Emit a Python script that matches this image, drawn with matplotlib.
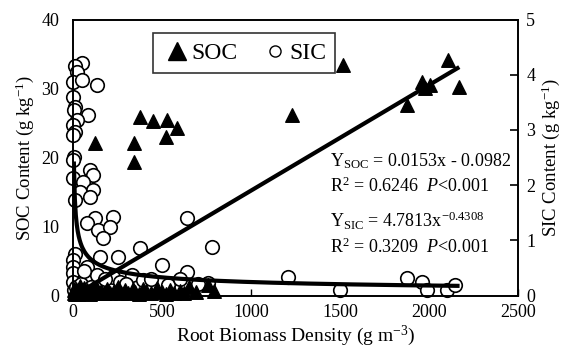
import numpy as np
import matplotlib
matplotlib.use("Agg")
import matplotlib.pyplot as plt
from matplotlib.lines import Line2D

plt.rcParams['font.family'] = ['Liberation Serif', 'DejaVu Serif']
plt.rcParams['mathtext.fontset'] = 'custom'
plt.rcParams['mathtext.rm'] = 'Liberation Serif'
plt.rcParams['mathtext.it'] = 'Liberation Serif:italic'

# SOC (g/kg) vs root biomass density (g/m3)
soc_x = [124, 376, 449, 528, 584, 522, 343, 343, 1517, 1230, 2107, 2169, 1961, 1978, 2006, 1876,
         3, 8, 12, 18, 25, 30, 38, 45, 55, 62, 70, 80, 95, 105, 118, 130, 145, 160, 175, 190,
         210, 230, 255, 270, 290, 310, 335, 350, 370, 395, 410, 440, 470, 500, 520, 545, 570,
         600, 625, 650, 690, 760, 790]
soc_y = [22.1, 25.9, 25.3, 25.4, 24.3, 23.0, 22.1, 19.3, 33.4, 26.2, 34.1, 30.2, 30.9, 30.1, 30.5, 27.6,
         0.3, 0.8, 0.2, 1.0, 0.5, 0.2, 1.4, 0.6, 0.3, 1.1, 0.4, 0.8, 0.2, 0.9, 0.5, 1.2, 0.3, 0.7, 0.4, 1.0,
         0.3, 0.6, 1.3, 0.4, 0.8, 0.3, 1.0, 0.5, 0.2, 0.9, 0.6, 0.3, 1.1, 0.5, 0.2, 0.8, 0.4,
         0.7, 0.3, 1.2, 0.5, 1.5, 0.6]

# SIC (g/kg) vs root biomass density
sic_x = [49, 11, 21, 2, 49, 133, 2, 11, 3, 86, 21, 2, 11, 2, 3, 2, 96, 114, 2, 58, 114, 39, 96, 11,
         227, 124, 77, 142, 208, 170, 639, 779, 376, 152, 255, 11, 2, 2, 77, 2, 67, 133, 227, 330,
         498, 639, 2, 264, 395, 535, 760, 1208, 1500, 1876, 1961, 1989, 2101, 2146,
         5, 15, 30, 45, 60, 100, 180, 300, 440, 600, 700]
sic_y = [4.21, 4.15, 4.05, 3.87, 3.90, 3.81, 3.60, 3.42, 3.36, 3.27, 3.18, 3.09, 2.97, 2.91, 2.51, 2.45,
         2.27, 2.18, 2.12, 2.06, 1.91, 1.88, 1.79, 1.73, 1.43, 1.40, 1.31, 1.19, 1.25, 1.04, 1.40, 0.88,
         0.86, 0.70, 0.70, 0.76, 0.64, 0.52, 0.52, 0.40, 0.34, 0.37, 0.34, 0.37, 0.55, 0.43, 0.25, 0.25,
         0.28, 0.19, 0.22, 0.34, 0.10, 0.32, 0.25, 0.10, 0.10, 0.19,
         0.10, 0.15, 0.10, 0.20, 0.45, 0.15, 0.30, 0.20, 0.30, 0.30, 0.20]

# fitted equations printed on the chart
soc_slope, soc_icpt = 0.0153, -0.0982
sic_a, sic_b = 4.7813, -0.4308

fig = plt.figure(figsize=(5.69, 3.51), dpi=100)
ax = fig.add_axes([0.1283, 0.1581, 0.7821, 0.7863])  # SIC axis (right)
ax2 = ax.twinx()  # SOC axis (left), drawn on top

ax.yaxis.tick_right()
ax.yaxis.set_label_position('right')
ax2.yaxis.tick_left()
ax2.yaxis.set_label_position('left')

# SIC circles and power fit
ax.scatter(sic_x, sic_y, s=95, facecolor='white', edgecolor='black', linewidth=1.2,
           clip_on=False, zorder=2)
xs = np.linspace(5, 2160, 400)
ax.plot(xs, sic_a * xs ** sic_b, color='black', lw=3, zorder=3)

# SOC triangles and linear fit
ax2.scatter(soc_x, soc_y, s=95, marker='^', color='black', clip_on=False, zorder=2)
xl = np.array([0, 2160])
ax2.plot(xl, soc_slope * xl + soc_icpt, color='black', lw=3, zorder=3)

ax.set_xlim(0, 2500)
ax.set_ylim(0, 5)
ax2.set_ylim(0, 40)
ax.set_xticks([0, 500, 1000, 1500, 2000, 2500])
ax.set_yticks([0, 1, 2, 3, 4, 5])
ax2.set_yticks([0, 10, 20, 30, 40])

ax.tick_params(axis='x', direction='in', length=5, width=1, labelsize=13, pad=6, top=False)
ax.tick_params(axis='y', direction='in', length=6, width=1.2, labelsize=13, pad=6,
               left=False, right=True)
ax2.tick_params(axis='y', length=0, labelsize=13, pad=10)

for a in (ax, ax2):
    for sp in a.spines.values():
        sp.set_linewidth(1.2)

ax.set_xlabel('Root Biomass Density (g m$^{-3}$)', fontsize=14, labelpad=2)
ax.set_ylabel('SIC Content (g kg$^{-1}$)', fontsize=13.5, labelpad=3)
ax2.set_ylabel('SOC Content (g kg$^{-1}$)', fontsize=13.5, labelpad=4)

# equations
tx = 0.578
ax2.text(tx, 0.469, r'Y$_{\rm SOC}$ = 0.0153x - 0.0982', transform=ax2.transAxes,
         fontsize=13, va='baseline')
ax2.text(tx, 0.375, r'R$^2$ = 0.6246  $P$<0.001', transform=ax2.transAxes,
         fontsize=13, va='baseline')
ax2.text(tx, 0.248, r'Y$_{\rm SIC}$ = 4.7813x$^{-0.4308}$', transform=ax2.transAxes,
         fontsize=13, va='baseline')
ax2.text(tx, 0.154, r'R$^2$ = 0.3209  $P$<0.001', transform=ax2.transAxes,
         fontsize=13, va='baseline')

handles = [Line2D([], [], marker='^', color='black', ls='none', markersize=13),
           Line2D([], [], marker='o', markerfacecolor='white', markeredgecolor='black',
                  ls='none', markersize=8)]
leg = ax2.legend(handles, ['SOC', 'SIC'], loc='upper left', bbox_to_anchor=(0.18, 0.951),
                 ncol=2, fontsize=17, frameon=True, fancybox=False, edgecolor='black',
                 handletextpad=0.0, columnspacing=1.0, borderpad=0.4, handlelength=1.2,
                 borderaxespad=0)
leg.get_frame().set_linewidth(1.2)

fig.savefig('out.png', dpi=100)
